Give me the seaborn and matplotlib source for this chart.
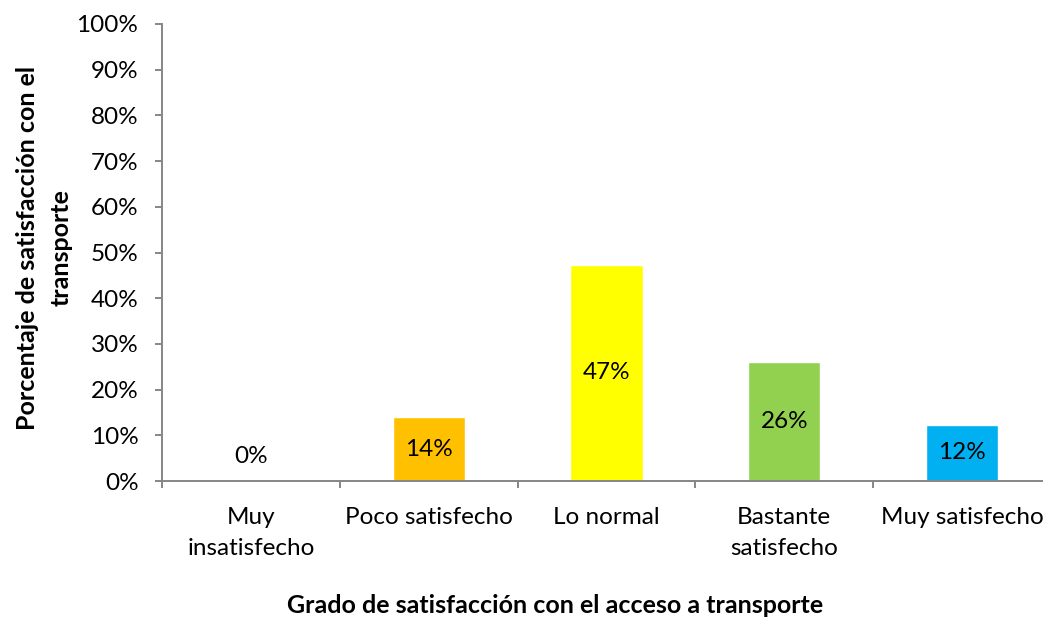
import numpy as np
import pandas as pd
import matplotlib
matplotlib.use('Agg')
import matplotlib.pyplot as plt
import seaborn as sns

categorias = ['Muy\ninsatisfecho', 'Poco satisfecho', 'Lo normal', 'Bastante\nsatisfecho', 'Muy satisfecho']
porcentajes = [0.0, 14.0, 47.3, 26.0, 12.3]
etiquetas = ['0%', '14%', '47%', '26%', '12%']
colores = ['#FFC000', '#FFC000', '#FFFF00', '#92D050', '#00B0F0']
yticks = list(range(0, 101, 10))

sns.set_theme(style='white')
plt.rcParams['font.family'] = ['Lato', 'DejaVu Sans']

df = pd.DataFrame({'cat': categorias, 'pct': porcentajes})

fig = plt.figure(figsize=(10.43, 6.2), dpi=100)
W, H = 1043, 620
x0, x1, y0, y1 = 162, 1051, 481, 24
ax = fig.add_axes([x0 / W, 1 - y0 / H, (x1 - x0) / W, (y0 - y1) / H])

sns.barplot(data=df, x='cat', y='pct', hue='cat', palette=colores, legend=False,
            width=0.405, saturation=1, ax=ax)

ax.set_xlim(-0.5, 4.5)
ax.set_ylim(0, 100)
ax.set_yticks(yticks)
ax.set_yticklabels([f'{t}%' for t in yticks], fontsize=17.5, color='black')

# etiquetas en el centro, marcas en los limites de categoria
ax.set_xticks(range(len(categorias)))
ax.set_xticklabels(categorias, fontsize=17.5, color='black', linespacing=1.55)
ax.set_xticks(np.arange(-0.5, len(categorias), 1), minor=True)
ax.tick_params(axis='x', which='major', length=0, pad=19)
ax.tick_params(axis='x', which='minor', length=5, width=1.4, color='#868686', direction='out', bottom=True)
ax.tick_params(axis='y', length=5, width=1.4, color='#868686', direction='out', left=True, pad=12)

for s in ['top', 'right']:
    ax.spines[s].set_visible(False)
for s in ['left', 'bottom']:
    ax.spines[s].set_color('#868686')
    ax.spines[s].set_linewidth(1.4)

for i, (v, t) in enumerate(zip(porcentajes, etiquetas)):
    y = v / 2 if v > 0 else 5.3
    ax.text(i, y, t, ha='center', va='center', fontsize=17.5, color='black')

ax.set_xlabel('Grado de satisfacción con el acceso a transporte', fontsize=18,
              fontweight='bold', color='black')
ax.set_ylabel('Porcentaje de satisfacción con el\ntransporte', fontsize=18,
              fontweight='bold', color='black', linespacing=1.6)
ax.xaxis.set_label_coords((555 - x0) / (x1 - x0), -(594 - y0) / (y0 - y1))
ax.yaxis.set_label_coords(-(x0 - 73) / (x1 - x0), (y0 - 248) / (y0 - y1))

fig.savefig('out.png', dpi=100)
